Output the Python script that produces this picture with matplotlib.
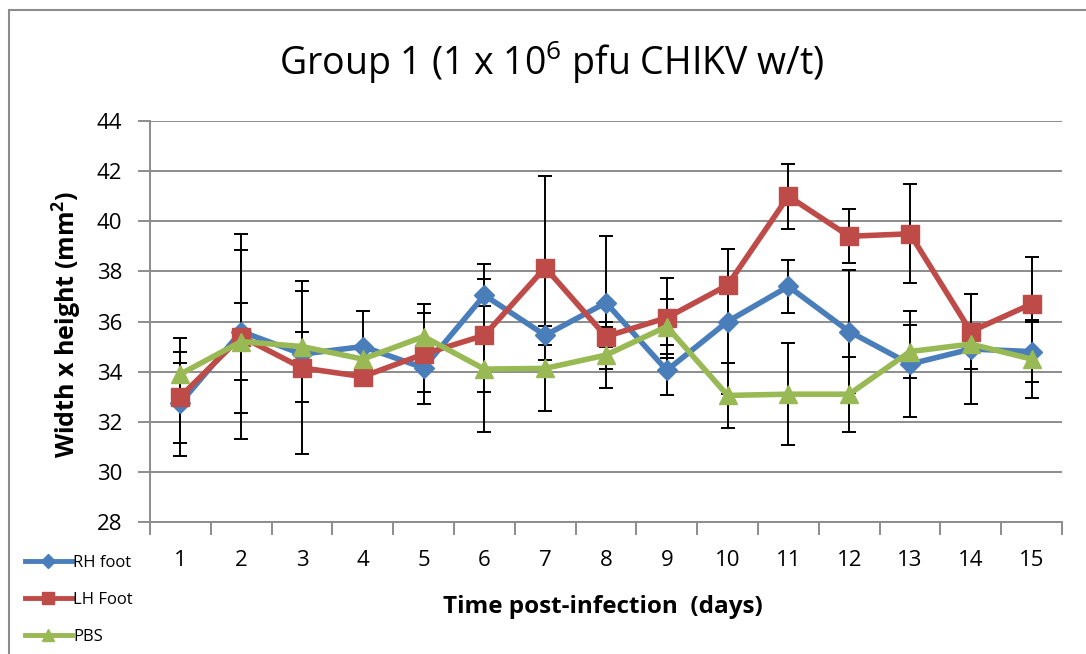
import matplotlib.pyplot as plt
import numpy as np
from matplotlib.patches import Rectangle

days = list(range(1, 16))

rh_foot = [32.75, 35.6, 34.7, 35.0, 34.15, 37.05, 35.45, 36.75, 34.05, 36.0, 37.4, 35.6, 34.3, 34.9, 34.8]
rh_err = [1.6, 3.25, 0.9, 1.4, 0.95, 1.25, 0.37, 2.65, 1.0, 2.9, 1.05, 2.45, 2.1, 2.2, 1.2]

lh_foot = [33.0, 35.4, 34.15, 33.8, 34.7, 35.45, 38.15, 35.4, 36.15, 37.45, 41.0, 39.4, 39.5, 35.6, 36.7]
lh_err = [2.35, 4.1, 3.45, 0.3, 2.0, 2.25, 3.67, 0.4, 1.6, 1.45, 1.3, 1.08, 1.97, 1.5, 1.88]

pbs = [33.9, 35.2, 35.0, 34.5, 35.4, 34.1, 34.13, 34.66, 35.8, 33.05, 33.1, 33.1, 34.8, 35.1, 34.5]
pbs_err = [0.88, 1.55, 2.2, 0.4, 0.95, 2.5, 1.7, 1.33, 1.1, 1.3, 2.03, 1.5, 1.05, 0.3, 1.55]

series = [
    ("RH foot", rh_foot, rh_err, "#4a7ebb", "D", 10),
    ("LH Foot", lh_foot, lh_err, "#be4b48", "s", 12.5),
    ("PBS", pbs, pbs_err, "#98b954", "^", 13),
]

plt.rcParams["font.family"] = ["Open Sans", "DejaVu Sans"]
plt.rcParams["mathtext.default"] = "regular"

W, H = 1086, 654
fig = plt.figure(figsize=(W / 100, H / 100), dpi=100)
ax = fig.add_axes([150 / W, 132 / H, 912 / W, 401 / H])

# chart frame (runs off the right and bottom edges)
fig.patches.append(Rectangle((9 / W, -0.05), 1.2, (H - 10) / H + 0.05,
                             transform=fig.transFigure, fill=False,
                             edgecolor="#8c8c8c", linewidth=1.5))

x = np.array(days)
handles = []
for name, vals, errs, color, marker, ms in series:
    ax.errorbar(x, vals, yerr=errs, fmt="none", ecolor="black",
                elinewidth=1.4, capsize=5, capthick=1.4, zorder=2)
for name, vals, errs, color, marker, ms in series:
    h, = ax.plot(x, vals, color=color, linewidth=4, marker=marker,
                 markersize=ms, markeredgecolor=color, label=name, zorder=3)
    handles.append(h)

ax.set_xlim(0.5, 15.5)
ax.set_ylim(28, 44)
ax.set_yticks(np.arange(28, 45, 2))
ax.yaxis.grid(True, color="#8c8c8c", linewidth=1.4)
ax.set_axisbelow(True)

ax.set_xticks(days)
ax.set_xticks(np.arange(0.5, 15.6, 1), minor=True)
ax.tick_params(axis="x", which="major", length=0, labelsize=16, pad=20)
ax.tick_params(axis="x", which="minor", length=9, color="#8c8c8c", width=1.4, direction="out")
ax.tick_params(axis="y", length=9, color="#8c8c8c", width=1.4, labelsize=16, pad=11)

for side in ("top", "right"):
    ax.spines[side].set_visible(False)
for side in ("left", "bottom"):
    ax.spines[side].set_color("#8c8c8c")
    ax.spines[side].set_linewidth(1.4)

fig.text(552 / W, 1 - 62 / H, r"Group 1 (1 x 10$^{6}$ pfu CHIKV w/t)",
         fontsize=27, ha="center", va="center")
fig.text(67 / W, 1 - 324 / H, r"Width x height (mm$^{2}$)", fontsize=18,
         fontweight="bold", rotation=90, ha="center", va="center")
fig.text(603 / W, 1 - 607 / H, "Time post-infection  (days)", fontsize=17.5,
         fontweight="bold", ha="center", va="center")

leg = fig.legend(handles=handles, loc="upper left",
                 bbox_to_anchor=(25 / W, 1 - 555 / H),
                 frameon=False, fontsize=12, handlelength=2.8, handletextpad=0.1,
                 labelspacing=1.25, borderaxespad=0, borderpad=0, markerscale=0.7)
for line in leg.get_lines():
    line.set_linewidth(3.5)

fig.savefig("out.png", dpi=100)
